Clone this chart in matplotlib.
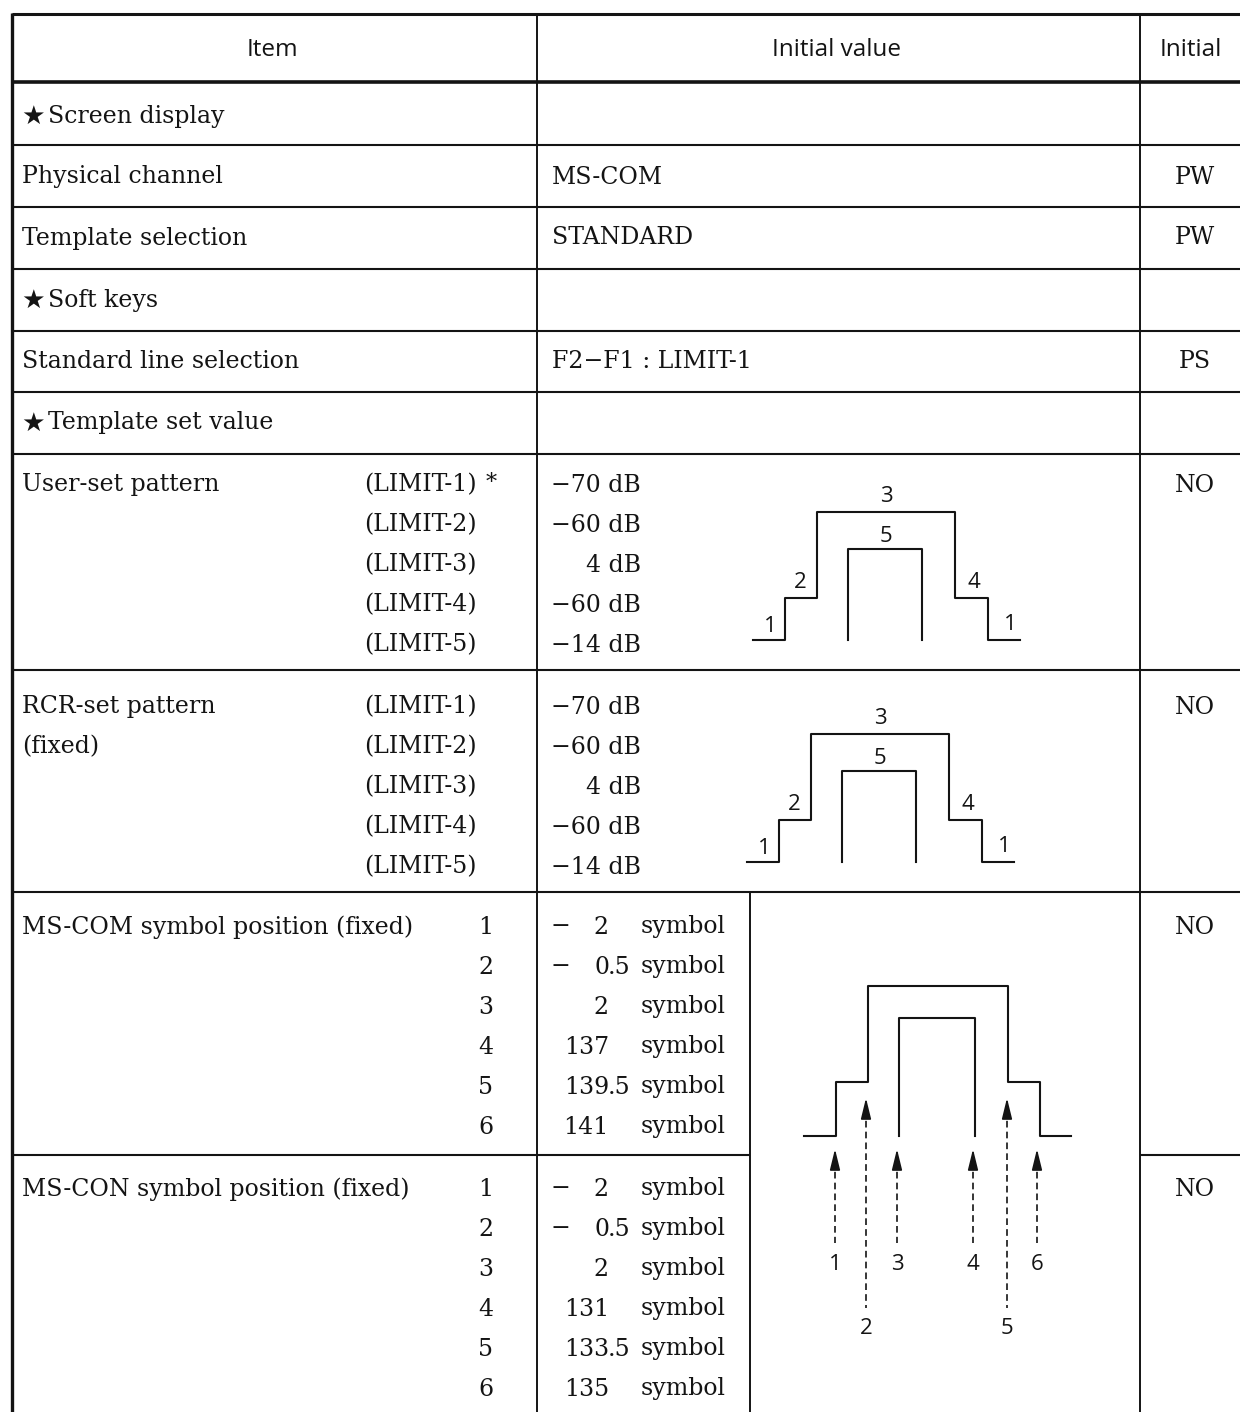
import matplotlib
matplotlib.use("Agg")
import matplotlib.pyplot as plt

# table content
item_rows = ["★Screen display", "Physical channel", "Template selection",
             "★Soft keys", "Standard line selection", "★Template set value"]
value_rows = ["", "MS-COM", "STANDARD", "", "F2−F1 : LIMIT-1", ""]
flag_rows = ["", "PW", "PW", "", "PS", ""]

limit_names = ["(LIMIT-1)", "(LIMIT-2)", "(LIMIT-3)", "(LIMIT-4)", "(LIMIT-5)"]
user_limits_db = [-70, -60, 4, -60, -14]
rcr_limits_db = [-70, -60, 4, -60, -14]
pattern_flags = ["NO", "NO"]

symbol_numbers = ["1", "2", "3", "4", "5", "6"]
ms_com_symbols = [-2, -0.5, 2, 137, 139.5, 141]
ms_con_symbols = [-2, -0.5, 2, 131, 133.5, 135]
symbol_flags = ["NO", "NO"]

SERIF = ["DejaVu Serif", "DejaVu Sans"]
SANS = ["Open Sans", "DejaVu Sans"]
FS = 17
INK = "#141414"

fig = plt.figure(figsize=(12.4, 14.12), dpi=100)
ax = fig.add_axes([0, 0, 1, 1])
ax.set_xlim(0, 1240)
ax.set_ylim(1412, 0)
ax.axis("off")


def hline(y, x0, x1, lw=1.5):
    ax.plot([x0, x1], [y, y], color=INK, lw=lw, solid_capstyle="butt")


def vline(x, y0, y1, lw=1.4):
    ax.plot([x, x], [y0, y1], color=INK, lw=lw, solid_capstyle="butt")


def txt(x, y, s, ha="left", fam=SERIF, size=FS):
    ax.text(x, y, s, ha=ha, va="center", family=fam, fontsize=size, color=INK)


# grid
hline(14, 12, 1240, lw=2.2)
hline(82, 12, 1240, lw=2.6)
for y in [145, 207, 269, 331, 392, 454, 670, 892]:
    hline(y, 12, 1240)
hline(1155, 12, 750)
hline(1155, 1140, 1240)
vline(12, 13, 1412, lw=2.4)
vline(537, 14, 1412)
vline(1140, 14, 1412)
vline(750, 892, 1412)

# header
txt(272, 50, "Item", ha="center", fam=SANS, size=17.5)
txt(836, 50, "Initial value", ha="center", fam=SANS, size=17.5)
txt(1160, 50, "Initial", fam=SANS, size=17.5)

row_y = [116, 177, 238, 300, 361, 423]
for y, item, val, flag in zip(row_y, item_rows, value_rows, flag_rows):
    if item.startswith("★"):
        txt(21, y + 1, "★", fam=["DejaVu Sans"], size=19)
        txt(48, y, item[1:])
    else:
        txt(22, y, item)
    if val:
        txt(552, y, val)
    if flag:
        txt(1195, y, flag, ha="center")


def fmt_db(v):
    return ("−" + str(abs(v)) if v < 0 else str(v)) + " dB"


def draw_pattern(x0, y0):
    # stepped limit template, origin = left end of baseline
    xs = [0, 32, 32, 64, 64, 202, 202, 235, 235, 267]
    ys = [0, 0, -42, -42, -128, -128, -42, -42, 0, 0]
    ax.plot([x0 + a for a in xs], [y0 + b for b in ys], color=INK, lw=1.5)
    ax.plot([x0 + a for a in [95, 95, 169, 169]], [y0 + b for b in [0, -91, -91, 0]],
            color=INK, lw=1.5)
    lab = [(17, -14, "1"), (47, -58, "2"), (133, -143, "3"), (133, -104, "5"),
           (221, -58, "4"), (257, -16, "1")]
    for dx, dy, s in lab:
        txt(x0 + dx, y0 + dy, s, ha="center", fam=SANS, size=16)


# template patterns
blocks = [("User-set pattern", "", user_limits_db, 485, 753, 640),
          ("RCR-set pattern", "(fixed)", rcr_limits_db, 707, 747, 862)]
for (name, sub, vals, y0, px, py), flag in zip(blocks, pattern_flags):
    txt(22, y0, name)
    if sub:
        txt(22, y0 + 40, sub)
    for i, (lim, v) in enumerate(zip(limit_names, vals)):
        y = y0 + 40 * i
        txt(364, y, lim)
        txt(641, y, fmt_db(v), ha="right")
    if name.startswith("User"):
        txt(486, y0 - 2, "*", size=16)
    txt(1195, y0, flag, ha="center")
    draw_pattern(px, py)

# symbol positions
sym_blocks = [("MS-COM symbol position (fixed)", ms_com_symbols, 927),
              ("MS-CON symbol position (fixed)", ms_con_symbols, 1189)]
for (name, vals, y0), flag in zip(sym_blocks, symbol_flags):
    txt(22, y0, name)
    txt(1195, y0, flag, ha="center")
    for i, (n, v) in enumerate(zip(symbol_numbers, vals)):
        y = y0 + 40 * i
        txt(486, y, n, ha="center")
        if v < 0:
            txt(560, y, "−", ha="center")
        whole = str(int(abs(v)))
        txt(609, y, whole, ha="right")
        if abs(v) != int(abs(v)):
            txt(608, y, "." + str(abs(v)).split(".")[1])
        txt(641, y, "symbol")

# symbol position diagram
bx, by = 804, 1136
xs = [0, 32, 32, 64, 64, 204, 204, 236, 236, 267]
ys = [0, 0, -54, -54, -150, -150, -54, -54, 0, 0]
ax.plot([bx + a for a in xs], [by + b for b in ys], color=INK, lw=1.5)
ax.plot([bx + a for a in [95, 95, 171, 171]], [by + b for b in [0, -118, -118, 0]],
        color=INK, lw=1.5)
arrow_x = [835, 866, 897, 973, 1007, 1037]
for k, (n, x) in enumerate(zip(symbol_numbers, arrow_x)):
    long_arrow = k in (1, 4)
    tip = 1098 if long_arrow else 1149
    tail = 1308 if long_arrow else 1243
    lab_y = 1329 if long_arrow else 1265
    ax.plot([x, x], [tip + 12, tail], color=INK, lw=1.2, ls=(0, (4, 2.5)))
    ax.annotate("", xy=(x, tip), xytext=(x, tip + 18),
                arrowprops=dict(arrowstyle="-|>,head_length=0.9,head_width=0.22",
                                color=INK, lw=1.2,
                                mutation_scale=14, shrinkA=0, shrinkB=0))
    txt(x, lab_y, n, ha="center", fam=SANS, size=16)

fig.savefig("out.png", dpi=100, facecolor="white")
